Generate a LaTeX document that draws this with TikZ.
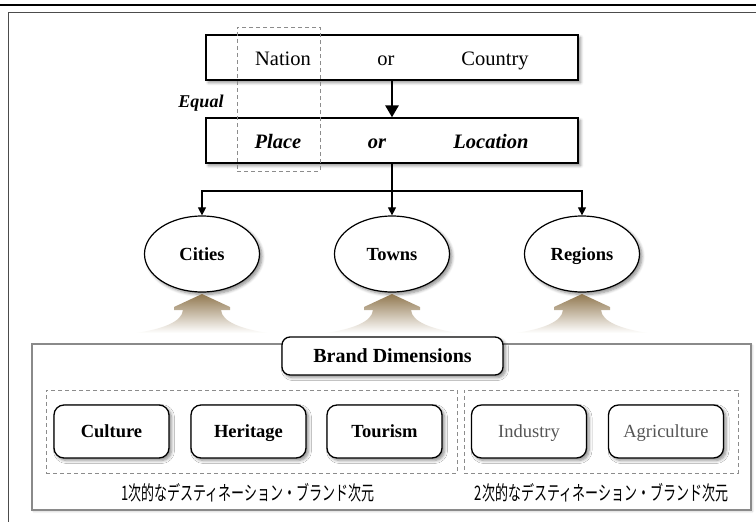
\documentclass[tikz,border=0pt]{standalone}
\usepackage{fontspec}
\setmainfont{Liberation Serif}
\newfontfamily\jpfont{Noto Sans CJK JP}
\usetikzlibrary{arrows.meta,shadows.blur,shapes.geometric}

\definecolor{framegray}{RGB}{138,138,138}
\definecolor{dashgray}{RGB}{140,140,140}
\definecolor{softtext}{RGB}{85,85,85}
\definecolor{tanbrown}{RGB}{145,120,80}
\definecolor{tanlight}{RGB}{190,172,140}

\tikzset{
  softshadow/.style={blur shadow={shadow xshift=2.5pt,shadow yshift=-2.5pt,
      shadow blur radius=3pt,shadow blur steps=6,shadow opacity=45}},
  topbox/.style={draw=black,line width=1.3pt,fill=white,minimum width=372pt,
      minimum height=45pt,inner sep=0pt,softshadow},
  rowtext/.style={font=\fontsize{20.5}{24}\selectfont,inner sep=0pt,
      text height=18pt,text depth=4.5pt},
  rowtextbi/.style={font=\bfseries\itshape\fontsize{20.5}{24}\selectfont,inner sep=0pt,
      text height=18pt,text depth=4.5pt},
  place/.style={ellipse,draw=black,line width=1.2pt,fill=white,minimum width=115pt,
      minimum height=76pt,inner sep=0pt,softshadow,text height=16.4pt,text depth=4pt,
      font=\bfseries\fontsize{18.5}{22}\selectfont},
  dimbox/.style={draw=black,line width=1.3pt,fill=white,rounded corners=10pt,
      minimum width=115pt,minimum height=53pt,inner sep=0pt,softshadow,
      text height=16.4pt,text depth=4pt,font=\fontsize{18.5}{22}\selectfont},
  dashbox/.style={draw=dashgray,line width=0.9pt,dash pattern=on 4pt off 3pt,
      inner sep=0pt},
  thinarrow/.style={draw=black,line width=1.1pt,-{Triangle[length=8pt,width=8pt]}},
  jptext/.style={font=\jpfont\fontsize{20}{24}\selectfont,inner sep=0pt},
}

\begin{document}
\begin{tikzpicture}[x=1pt,y=-1pt]
\useasboundingbox (0,0) rectangle (756,522);

% page rules
\coordinate (ruleL) at (0,5);
\coordinate (ruleR) at (756,5);
\draw[line width=2.6pt] (ruleL) -- (ruleR);
\coordinate (frameTR) at (756,12);
\coordinate (frameTL) at (8,12);
\coordinate (frameBL) at (8,522);
\draw[line width=1pt,black!70] (frameTR) -- (frameTL) -- (frameBL);

% upper hierarchy
\node[topbox] (nation) at (392,57.5) {};
\node[topbox] (place) at (392,140.5) {};
\node[dashbox,minimum width=83pt,minimum height=144pt] (equalbox) at (278.5,99) {};

\node[rowtext] (tnation) at (283,59) {Nation};
\node[rowtext] (tor1) at (386,59) {or};
\node[rowtext] (tcountry) at (495,59) {Country};
\node[rowtextbi] (tplace) at (278,141.5) {Place};
\node[rowtextbi] (tor2) at (377,141.5) {or};
\node[rowtextbi] (tlocation) at (491,141.5) {Location};
\node[font=\bfseries\itshape\fontsize{18}{22}\selectfont,inner sep=0pt] (equal) at (201,103) {Equal};

\draw[line width=2.8pt,-{Triangle[length=12pt,width=13pt]}] (nation.south) -- (place.north);

\node[place] (cities) at (202,254) {Cities};
\node[place] (towns) at (392,254) {Towns};
\node[place] (regions) at (582,254) {Regions};

\coordinate (split) at (392,191);
\draw[thinarrow] (place.south) -- (towns.north);
\draw[thinarrow] (split) -| (cities.north);
\draw[thinarrow] (split) -| (regions.north);

% rising arrows
\foreach \cx in {202,392,582}{
  \shade[top color=tanbrown,middle color=tanlight,bottom color=white]
    (\cx,294) -- (\cx+28,307) -- (\cx+28,310) -- (\cx+19,310)
    .. controls (\cx+20,322) and (\cx+40,329) .. (\cx+66,333)
    -- (\cx-66,333)
    .. controls (\cx-40,329) and (\cx-20,322) .. (\cx-19,310)
    -- (\cx-28,310) -- (\cx-28,307) -- cycle;
}

% brand dimensions panel
\node[draw=framegray,line width=1.3pt,fill=white,minimum width=719pt,minimum height=166pt,
      inner sep=0pt,blur shadow={shadow xshift=1.5pt,shadow yshift=-1.5pt,shadow opacity=20}]
      (panel) at (391.5,427) {};
\node[draw=black,line width=1.3pt,fill=white,rounded corners=8pt,minimum width=221pt,
      minimum height=38pt,inner sep=0pt,softshadow,text height=17.5pt,text depth=4.3pt,
      font=\bfseries\fontsize{20}{24}\selectfont]
      (brand) at (392.5,356) {Brand Dimensions};

\node[dashbox,minimum width=411pt,minimum height=83pt] (primary) at (251.5,431.5) {};
\node[dashbox,minimum width=274pt,minimum height=83pt] (secondary) at (601,431.5) {};

\node[dimbox,font=\bfseries\fontsize{18.5}{22}\selectfont] (culture) at (111.5,431.5) {Culture};
\node[dimbox,font=\bfseries\fontsize{18.5}{22}\selectfont] (heritage) at (248.5,431.5) {Heritage};
\node[dimbox,font=\bfseries\fontsize{18.5}{22}\selectfont] (tourism) at (384.5,431.5) {Tourism};
\node[dimbox,text=softtext] (industry) at (529,431.5) {Industry};
\node[dimbox,text=softtext] (agriculture) at (666,431.5) {Agriculture};

\node[jptext] (primlabel) at (248,493) {\scalebox{0.65}[1]{1次的なデスティネーション・ブランド次元}};
\node[jptext] (seclabel) at (601.5,493) {\scalebox{0.65}[1]{2次的なデスティネーション・ブランド次元}};
\end{tikzpicture}
\end{document}
